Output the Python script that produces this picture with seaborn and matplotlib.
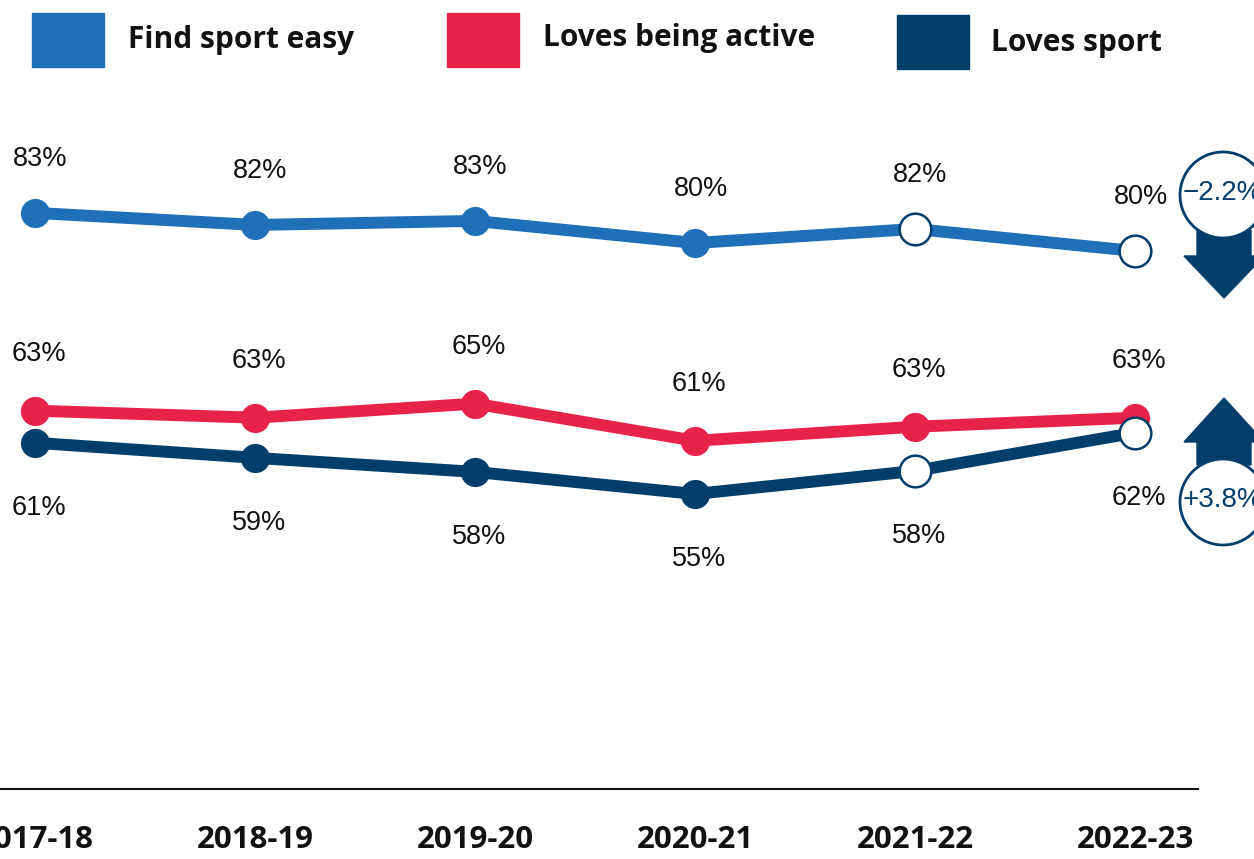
import numpy as np
import pandas as pd
import matplotlib
matplotlib.use("Agg")
import matplotlib.pyplot as plt
from matplotlib.patches import Rectangle, Ellipse, Polygon
import seaborn as sns

# DATA
years = ["2017-18", "2018-19", "2019-20", "2020-21", "2021-22", "2022-23"]
find_easy = [83.0, 81.8, 82.2, 80.0, 81.4, 79.2]
loves_active = [63.3, 62.6, 64.0, 60.3, 61.7, 62.6]
loves_sport = [60.1, 58.6, 57.2, 55.0, 57.3, 61.1]
find_easy_lbl = [83, 82, 83, 80, 82, 80]
loves_active_lbl = [63, 63, 65, 61, 63, 63]
loves_sport_lbl = [61, 59, 58, 55, 58, 62]
series_names = ["Find sport easy", "Loves being active", "Loves sport"]
changes = ["\u22122.2%", "+3.8%"]

BLUE = "#1f70b8"
RED = "#e8234a"
NAVY = "#023e6b"
palette = {series_names[0]: BLUE, series_names[1]: RED, series_names[2]: NAVY}

df = pd.DataFrame({
    "x": list(range(len(years))) * 3,
    "value": find_easy + loves_active + loves_sport,
    "series": np.repeat(series_names, len(years)),
})

sns.set_theme(style="white")
plt.rcParams["font.family"] = ["Liberation Sans", "DejaVu Sans"]
plt.rcParams["text.color"] = "#111111"
plt.rcParams["xtick.color"] = "#111111"

W, H = 1254, 859
fig = plt.figure(figsize=(W / 100, H / 100), dpi=100)
ax = fig.add_axes([0, 70 / H, 1, 789 / H])


def px(x, y):
    return (x / W, 1 - y / H)


sns.lineplot(data=df, x="x", y="value", hue="series", hue_order=series_names,
             palette=palette, marker="o", markersize=21, markeredgewidth=0,
             linewidth=8.6, legend=False, ax=ax)

# open markers for the last two years
open_df = pd.DataFrame({
    "x": [4, 5, 4, 5],
    "value": find_easy[4:] + loves_sport[4:],
})
sns.scatterplot(data=open_df, x="x", y="value", s=520, color="white",
                edgecolor=NAVY, linewidth=1.8, zorder=5, ax=ax)

# value labels
for i in range(len(years)):
    ax.annotate(f"{find_easy_lbl[i]}%", (i, find_easy[i]), xytext=(4, 39),
                textcoords="offset points", ha="center", va="center", fontsize=19.5)
    ax.annotate(f"{loves_active_lbl[i]}%", (i, loves_active[i]), xytext=(3, 41),
                textcoords="offset points", ha="center", va="center", fontsize=19.5)
    ax.annotate(f"{loves_sport_lbl[i]}%", (i, loves_sport[i]), xytext=(3, -47),
                textcoords="offset points", ha="center", va="center", fontsize=19.5)

ax.set_xlim(-35 / 220, 1219 / 220)
ax.set_ylim(80 - 546 / 10.04, 80 + 243 / 10.04)
ax.set_xticks(range(len(years)))
ax.set_xticklabels(years, fontsize=22.5, fontweight="bold", family=["Open Sans", "DejaVu Sans"])
ax.tick_params(axis="x", length=0, pad=26)
ax.set_yticks([])
ax.set_xlabel("")
ax.set_ylabel("")
for s in ["top", "right", "left"]:
    ax.spines[s].set_visible(False)
ax.spines["bottom"].set_color("#111111")
ax.spines["bottom"].set_linewidth(1.5)
ax.spines["bottom"].set_bounds(-35 / 220, (1198 - 35) / 220)

# legend
leg_boxes = [(32, 13), (447, 13), (897, 15)]
leg_text = [(128, 40), (543, 38), (991, 43)]
for name, (bx, by), (tx, ty) in zip(series_names, leg_boxes, leg_text):
    fig.patches.append(Rectangle(px(bx, by + 54), 72 / W, 54 / H,
                                 transform=fig.transFigure, color=palette[name]))
    fig.text(*px(tx, ty), name, ha="left", va="center", fontsize=21.5,
             fontweight="bold", family=["Open Sans", "DejaVu Sans"])

# change markers on the right
down = [(1197, 230), (1251, 230), (1251, 256), (1264, 256), (1224, 298),
        (1184, 256), (1197, 256)]
up = [(1197, 465), (1251, 465), (1251, 442), (1264, 442), (1224, 398),
      (1184, 442), (1197, 442)]
for pts in [down, up]:
    fig.patches.append(Polygon([px(x, y) for x, y in pts], closed=True,
                               transform=fig.transFigure, color=NAVY))
for (cx, cy), txt in zip([(1223, 195), (1223, 502)], changes):
    fig.patches.append(Ellipse(px(cx, cy), 86 / W, 86 / H, transform=fig.transFigure,
                               facecolor="white", edgecolor=NAVY, linewidth=2))
    fig.text(*px(1183, cy - 2), txt, ha="left", va="center", fontsize=20, color=NAVY)

fig.savefig("out.png", dpi=100)
